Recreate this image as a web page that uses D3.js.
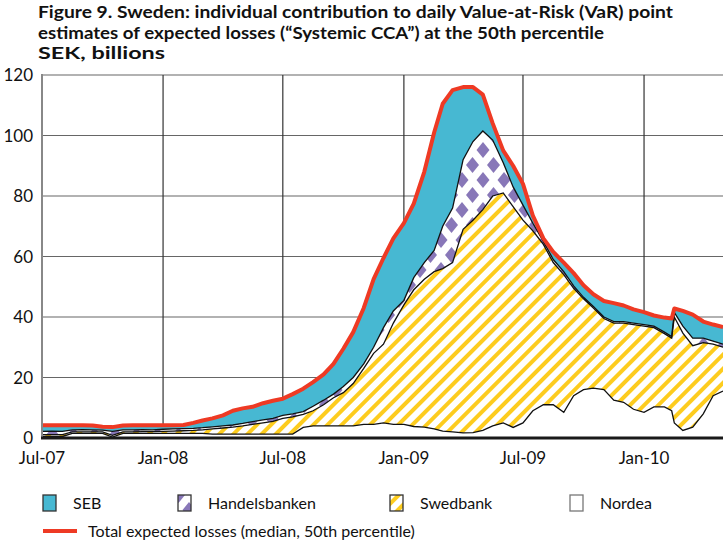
<!DOCTYPE html>
<html><head><meta charset="utf-8">
<script src="https://cdn.jsdelivr.net/npm/d3@7"></script>
<style>body{margin:0;background:#fff}</style>
</head><body>
<svg id="c" width="723" height="543"></svg>
<script>
// ---- data (SEK billions), semi-monthly readings ----
const dates = ["2007-07-01","2007-07-16","2007-08-01","2007-08-16","2007-09-01","2007-09-16","2007-10-01","2007-10-16","2007-11-01","2007-11-16","2007-12-01","2007-12-16",
"2008-01-01","2008-01-16","2008-02-01","2008-02-16","2008-03-01","2008-03-16","2008-04-01","2008-04-16","2008-05-01","2008-05-16","2008-06-01","2008-06-16",
"2008-07-01","2008-07-16","2008-08-01","2008-08-16","2008-09-01","2008-09-16","2008-10-01","2008-10-16","2008-11-01","2008-11-16","2008-12-01","2008-12-16",
"2009-01-01","2009-01-16","2009-02-01","2009-02-16","2009-03-01","2009-03-16","2009-04-01","2009-04-16","2009-05-01","2009-05-16","2009-06-01","2009-06-16",
"2009-07-01","2009-07-16","2009-08-01","2009-08-16","2009-09-01","2009-09-16","2009-10-01","2009-10-16","2009-11-01","2009-11-16","2009-12-01","2009-12-16",
"2010-01-01","2010-01-16","2010-02-01","2010-02-12","2010-02-16","2010-03-01","2010-03-16","2010-04-01","2010-04-16","2010-05-01"];
const nordea = [0.5,0.5,0.5,1.5,1.5,1.5,1.5,0.3,1.5,1.5,1.5,1.5,
1.5,1.5,1.5,1.5,1.5,1.3,1.3,1.3,1.3,1.3,1.3,1.3,
1.3,1.3,3.5,4.0,4.0,4.0,4.0,4.0,4.5,4.5,5.0,4.5,
4.5,3.8,3.6,3.0,2.3,2.0,1.7,1.8,2.5,4.0,5.0,3.5,
5.0,9.0,11.0,11.0,8.5,14.0,16.0,16.5,16.0,12.5,11.8,9.5,
8.5,10.3,10.3,9.0,5.0,2.5,3.6,8.0,14.0,15.5];
const swedbank = [0.6,0.6,0.6,0.5,0.5,0.5,0.5,0.6,0.5,0.5,0.6,0.6,
0.7,0.8,0.9,1.0,1.2,1.7,2.0,2.3,2.7,3.2,3.7,4.2,
5.2,5.7,4.3,5.0,7.0,9.3,11.0,14.0,18.5,23.5,26.0,33.5,
39.5,45.2,48.9,52.0,53.7,56.0,67.3,70.2,73.0,76.0,76.0,73.0,
67.0,59.5,53.0,47.0,45.5,35.5,30.0,26.5,23.5,25.5,26.2,28.0,
28.5,26.2,24.2,24.0,35.0,32.2,26.9,23.5,17.0,14.5];
const handelsbanken = [1.1,1.2,1.1,0.7,0.8,0.7,0.6,1.3,0.7,0.7,0.7,0.6,
0.7,0.7,0.7,0.7,0.7,0.7,0.7,0.7,0.8,0.9,1.0,1.0,
1.0,1.0,0.9,1.5,1.5,1.2,2.0,2.0,1.5,2.0,5.5,4.0,
1.5,4.0,5.5,7.0,14.0,18.0,23.0,26.0,26.0,18.5,10.0,6.5,
5.0,2.5,1.0,1.0,1.0,0.8,0.5,0.5,0.5,0.5,0.5,0.5,
0.5,0.5,0.5,0.5,1.5,2.3,2.5,1.5,1.0,1.0];
const seb = [2.0,1.9,2.0,1.5,1.4,1.4,1.1,1.4,1.4,1.5,1.4,1.5,
1.3,1.2,1.2,1.8,2.4,2.8,3.5,4.7,5.0,4.9,5.5,5.8,
5.5,6.5,7.6,8.0,8.5,10.0,12.5,15.0,18.5,22.5,23.0,24.0,
25.5,24.5,30.0,39.0,40.5,39.0,24.0,18.0,12.0,5.5,4.0,7.0,
7.0,2.5,1.0,2.5,3.0,4.2,4.0,4.0,5.3,6.1,5.3,4.5,
4.1,3.5,4.8,6.0,1.3,5.0,7.8,5.5,5.5,5.7];
const yTicks = [0,20,40,60,80,100,120];
const xTickDates = ["2007-07-01","2008-01-01","2008-07-01","2009-01-01","2009-07-01","2010-01-01"];
const titleLines = ["Figure 9. Sweden: individual contribution to daily Value-at-Risk (VaR) point",
"estimates of expected losses (\u201cSystemic CCA\u201d) at the 50th percentile",
"SEK, billions"];
const legendItems = [["seb","SEB"],["handelsbanken","Handelsbanken"],["swedbank","Swedbank"],["nordea","Nordea"]];
const totalLabel = "Total expected losses (median, 50th percentile)";

// ---- drawing ----
const parse = d3.timeParse("%Y-%m-%d");
const rows = dates.map((d,i)=>({date:parse(d),nordea:nordea[i],swedbank:swedbank[i],handelsbanken:handelsbanken[i],seb:seb[i]}));
rows.forEach(r=>r.total=r.nordea+r.swedbank+r.handelsbanken+r.seb);
const keys = ["nordea","swedbank","handelsbanken","seb"];
const stacked = d3.stack().keys(keys)(rows);

const L=42,R=723,T=75,B=438;
const x = d3.scaleTime().domain([parse("2007-07-01"),parse("2010-05-01")]).range([L,R]);
const y = d3.scaleLinear().domain([0,120]).range([B,T]);
const svg = d3.select("#c");
const font = "Lato, 'Open Sans', sans-serif";

const defs = svg.append("defs");
const st = defs.append("pattern").attr("id","stripe").attr("patternUnits","userSpaceOnUse")
  .attr("width",10).attr("height",10).attr("patternTransform","rotate(45)");
st.append("rect").attr("width",10).attr("height",10).attr("fill","#fff");
st.append("rect").attr("width",4).attr("height",10).attr("fill","#fdcc1e");
const PW=21, PH=30;
const dm = defs.append("pattern").attr("id","diam").attr("patternUnits","userSpaceOnUse")
  .attr("width",PW).attr("height",PH);
dm.append("rect").attr("width",PW).attr("height",PH).attr("fill","#fff");
[[PW/2,PH/2],[0,0],[PW,0],[0,PH],[PW,PH]].forEach(([cx,cy])=>{
  dm.append("polygon").attr("points",`${cx},${cy-8} ${cx+6.5},${cy} ${cx},${cy+8} ${cx-6.5},${cy}`).attr("fill","#8877b8");
});
defs.append("clipPath").attr("id","plot").append("rect").attr("x",L).attr("y",T-10).attr("width",R-L).attr("height",B-T+10);

// grid
svg.append("g").selectAll("line").data(yTicks.filter(v=>v>0)).join("line")
  .attr("x1",L).attr("x2",R).attr("y1",d=>y(d)).attr("y2",d=>y(d)).attr("stroke","#666").attr("stroke-width",1.2);
svg.append("g").selectAll("line").data(xTickDates.slice(1)).join("line")
  .attr("x1",d=>x(parse(d))).attr("x2",d=>x(parse(d))).attr("y1",T).attr("y2",B).attr("stroke","#333").attr("stroke-width",1.2);

const fills = {nordea:"#fff",swedbank:"url(#stripe)",handelsbanken:"url(#diam)",seb:"#47b8d2"};
const area = d3.area().x(d=>x(d.data.date)).y0(d=>y(d[0])).y1(d=>y(d[1]));
const g = svg.append("g").attr("clip-path","url(#plot)");
g.selectAll("path.a").data(stacked).join("path").attr("class","a")
  .attr("d",area).attr("fill",d=>fills[d.key]);
const topLine = d3.line().x(d=>x(d.data.date)).y(d=>y(d[1]));
g.selectAll("path.t").data(stacked.slice(0,3)).join("path").attr("class","t")
  .attr("d",topLine).attr("fill","none").attr("stroke","#111").attr("stroke-width",1.3);
g.append("path").datum(rows)
  .attr("d",d3.line().x(d=>x(d.date)).y(d=>y(d.total)))
  .attr("fill","none").attr("stroke","#ee3a24").attr("stroke-width",4).attr("stroke-linejoin","round");

// axes
svg.append("line").attr("x1",L).attr("x2",L).attr("y1",T-1).attr("y2",B).attr("stroke","#888").attr("stroke-width",2);
svg.append("line").attr("x1",L-1).attr("x2",R).attr("y1",B).attr("y2",B).attr("stroke","#1a1a1a").attr("stroke-width",3);
svg.append("g").selectAll("text").data(yTicks).join("text")
  .attr("x",33).attr("y",d=>y(d)).attr("dy","0.36em").attr("text-anchor","end")
  .attr("font-family",font).attr("font-size",17).attr("fill","#111").text(d=>d);
const fmt = d3.timeFormat("%b-%y");
svg.append("g").selectAll("text").data(xTickDates).join("text")
  .attr("x",d=>x(parse(d))).attr("y",464).attr("text-anchor","middle")
  .attr("font-family",font).attr("font-size",17).attr("fill","#111").text(d=>fmt(parse(d)));

// title
const tw = [635,566,127];
svg.append("g").selectAll("text").data(titleLines).join("text")
  .attr("x",38).attr("y",(d,i)=>18+i*20.5).attr("font-family",font).attr("font-weight","bold")
  .attr("font-size",17).attr("fill","#111").attr("textLength",(d,i)=>tw[i]).attr("lengthAdjust","spacingAndGlyphs").text(d=>d);

// legend
const lx = [43,178,390,570];
const lg = svg.append("g");
legendItems.forEach(([k,label],i)=>{
  lg.append("rect").attr("x",lx[i]).attr("y",495).attr("width",13).attr("height",16)
    .attr("fill",k==="nordea"?"#fff":fills[k]).attr("stroke",k==="nordea"?"#777":"#333").attr("stroke-width",1.3);
  lg.append("text").attr("x",lx[i]+30).attr("y",509).attr("font-family",font).attr("font-size",16).attr("fill","#111").text(label);
});
lg.append("line").attr("x1",43).attr("x2",77).attr("y1",531).attr("y2",531).attr("stroke","#ee3a24").attr("stroke-width",4);
lg.append("text").attr("x",88).attr("y",537).attr("font-family",font).attr("font-size",16).attr("fill","#111").text(totalLabel);
</script>
</body></html>
